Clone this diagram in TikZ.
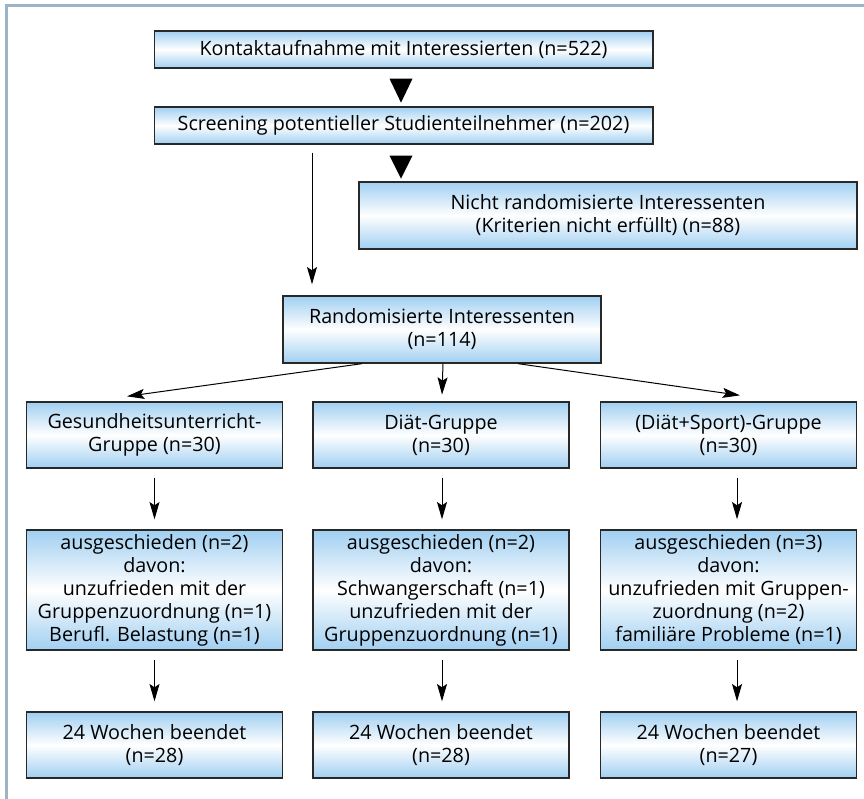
\documentclass[tikz,border=0pt]{standalone}
\usepackage{fontspec}
\setmainfont{Open Sans}
\usetikzlibrary{arrows.meta,calc}

\definecolor{boxblue}{RGB}{160,207,241}
\definecolor{framegray}{RGB}{157,180,200}
\definecolor{edgegray}{RGB}{40,40,40}

\begin{document}
\begin{tikzpicture}[x=0.75pt,y=-0.75pt,
  font=\fontsize{14.8}{17.25}\selectfont,
  >={Stealth[length=13pt,width=7.5pt,inset=2.5pt]},
  arr/.style={->,line width=0.75pt,shorten <=6.75pt,shorten >=7.5pt},
  fan/.style={->,line width=0.75pt},
  flow box/.style={rectangle,draw=edgegray,line width=1pt,align=center,inner sep=0pt,
    top color=boxblue,bottom color=boxblue,middle color=white},
  top box/.style={flow box,minimum width=374pt,minimum height=27.75pt},
  two box/.style={flow box,minimum width=192pt,minimum height=49.5pt},
  drop box/.style={flow box,minimum width=192pt,minimum height=90pt}]

 \useasboundingbox (0,0) rectangle (864,799);
 \draw[framegray,line width=2.25pt] (6,799) -- (6,6) -- (864,6);

 \node[top box] (kontakt) at (403.5,49.5) {Kontaktaufnahme mit Interessierten (n=522)};
 \node[top box] (screen) at (403.5,125.5) {Screening potentieller Studienteilnehmer (n=202)};
 \node[flow box,minimum width=373.5pt,minimum height=50.25pt] (nonrand) at (608,215.5)
   {Nicht randomisierte Interessenten\\(Kriterien nicht erfüllt) (n=88)};
 \node[flow box,minimum width=238.5pt,minimum height=50.25pt] (random) at (442,329.5)
   {Randomisierte Interessenten\\(n=114)};

 \node[two box] (gu) at (154.5,435) {Gesundheitsunterricht-\\Gruppe (n=30)};
 \node[two box] (diaet) at (441,435) {Diät-Gruppe\\(n=30)};
 \node[two box] (sport) at (728.5,435) {(Diät+Sport)-Gruppe\\(n=30)};

 \node[drop box] (gu2) at (154.5,590) {ausgeschieden (n=2)\\davon:\\unzufrieden mit der\\Gruppenzuordnung (n=1)\\Berufl. Belastung (n=1)};
 \node[drop box] (diaet2) at (441,590) {ausgeschieden (n=2)\\davon:\\Schwangerschaft (n=1)\\unzufrieden mit der\\Gruppenzuordnung (n=1)};
 \node[drop box] (sport2) at (728.5,590) {ausgeschieden (n=3)\\davon:\\unzufrieden mit Gruppen-\\zuordnung (n=2)\\familiäre Probleme (n=1)};

 \node[two box] (gu3) at (154.5,745) {24 Wochen beendet\\(n=28)};
 \node[two box] (diaet3) at (441,745) {24 Wochen beendet\\(n=28)};
 \node[two box] (sport3) at (728.5,745) {24 Wochen beendet\\(n=27)};

 % triangles between the top boxes
 \fill ($(kontakt.south)+(-14,10)$) -- ++(23,0) -- ++(-11.5,24) -- cycle;
 \fill ($(screen.south)+(-14,11)$) -- ++(23,0) -- ++(-11.5,23) -- cycle;

 \coordinate (vx) at (312,0);
 \draw[arr,shorten <=6pt,shorten >=8.25pt] (screen.south -| vx) -- (random.north -| vx);

 \draw[fan] ([xshift=-60pt]random.south) -- ([xshift=-20.6pt,yshift=3.75pt]gu.north);
 \draw[fan] ([xshift=0.75pt]random.south) -- ([xshift=0.75pt,yshift=5pt]diaet.north);
 \draw[fan] ([xshift=57pt]random.south) -- ([xshift=8.6pt,yshift=4.5pt]sport.north);

 \draw[arr] (gu.south) -- (gu2.north);
 \draw[arr] ([xshift=0.75pt]diaet.south) -- ([xshift=0.75pt]diaet2.north);
 \draw[arr] ([xshift=6.4pt]sport.south) -- ([xshift=6.4pt]sport2.north);
 \draw[arr] (gu2.south) -- (gu3.north);
 \draw[arr] ([xshift=0.75pt]diaet2.south) -- ([xshift=0.75pt]diaet3.north);
 \draw[arr] ([xshift=6.4pt]sport2.south) -- ([xshift=6.4pt]sport3.north);

\end{tikzpicture}
\end{document}
